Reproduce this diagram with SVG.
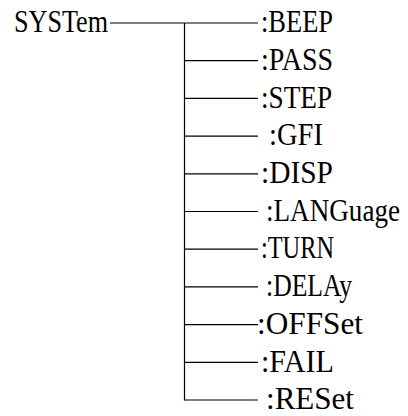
<svg xmlns="http://www.w3.org/2000/svg" width="408" height="416" viewBox="0 0 408 416">
<style>
.t text{font-size:31px;fill:#000}
.c line{stroke:#000;stroke-width:1.2}
</style>
<rect width="408" height="416" fill="#fff"/>
<g class="c" id="connectors">
<line x1="110" y1="23" x2="258" y2="23"/>
<line x1="184.5" y1="23" x2="184.5" y2="400.5"/>
<line x1="184.5" y1="60.7" x2="258" y2="60.7"/>
<line x1="184.5" y1="98.4" x2="258" y2="98.4"/>
<line x1="184.5" y1="136.1" x2="258" y2="136.1"/>
<line x1="184.5" y1="173.8" x2="258" y2="173.8"/>
<line x1="184.5" y1="211.5" x2="258" y2="211.5"/>
<line x1="184.5" y1="249.2" x2="258" y2="249.2"/>
<line x1="184.5" y1="286.9" x2="258" y2="286.9"/>
<line x1="184.5" y1="324.6" x2="258" y2="324.6"/>
<line x1="184.5" y1="362.3" x2="258" y2="362.3"/>
<line x1="184.5" y1="400" x2="258" y2="400"/>
</g>
<g class="t" font-family="Liberation Serif, DejaVu Serif, serif">
<g id="n-system"><text x="14" y="32" textLength="94" lengthAdjust="spacingAndGlyphs">SYSTem</text></g>
<g id="n-beep"><text x="261" y="32" textLength="72" lengthAdjust="spacingAndGlyphs">:BEEP</text></g>
<g id="n-pass"><text x="261" y="70" textLength="72" lengthAdjust="spacingAndGlyphs">:PASS</text></g>
<g id="n-step"><text x="261" y="107.5" textLength="71" lengthAdjust="spacingAndGlyphs">:STEP</text></g>
<g id="n-gfi"><text x="269" y="145" textLength="54" lengthAdjust="spacingAndGlyphs">:GFI</text></g>
<g id="n-disp"><text x="261" y="183" textLength="72" lengthAdjust="spacingAndGlyphs">:DISP</text></g>
<g id="n-language"><text x="266" y="220.5" textLength="134" lengthAdjust="spacingAndGlyphs">:LANGuage</text></g>
<g id="n-turn"><text x="261" y="258" textLength="73" lengthAdjust="spacingAndGlyphs">:TURN</text></g>
<g id="n-delay"><text x="266" y="296" textLength="86" lengthAdjust="spacingAndGlyphs">:DELAy</text></g>
<g id="n-offset"><text x="257" y="333.5" textLength="106" lengthAdjust="spacingAndGlyphs">:OFFSet</text></g>
<g id="n-fail"><text x="261" y="371.5" textLength="73" lengthAdjust="spacingAndGlyphs">:FAIL</text></g>
<g id="n-reset"><text x="266" y="409" textLength="88" lengthAdjust="spacingAndGlyphs">:RESet</text></g>
</g>
</svg>
